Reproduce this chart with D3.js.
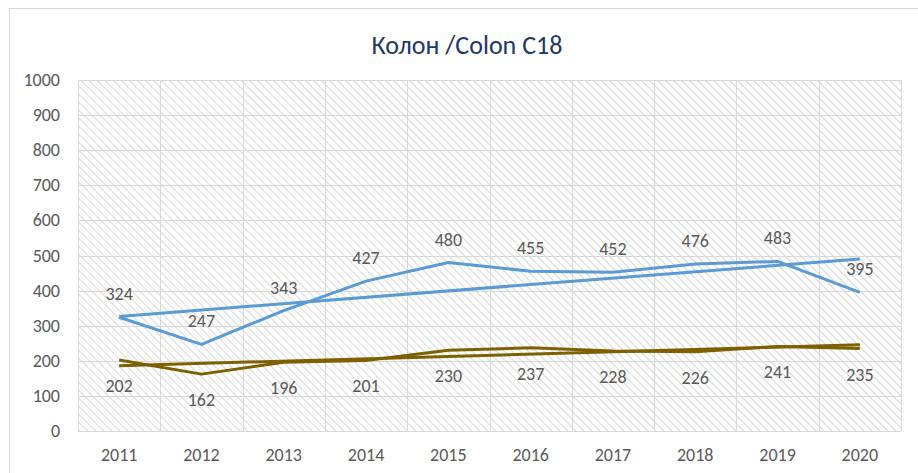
<!DOCTYPE html>
<html>
<head>
<meta charset="utf-8">
<script src="https://cdn.jsdelivr.net/npm/d3@7"></script>
<style>
  body { margin: 0; background: #fff; }
  svg { display: block; font-family: Calibri, Carlito, "Open Sans", sans-serif; }
</style>
</head>
<body>
<div id="chart"></div>
<script>
var years = ['2011', '2012', '2013', '2014', '2015', '2016', '2017', '2018', '2019', '2020'];
var blue_values = [324, 247, 343, 427, 480, 455, 452, 476, 483, 395];
var brown_values = [202, 162, 196, 201, 230, 237, 228, 226, 241, 235];
var y_ticks = [0, 100, 200, 300, 400, 500, 600, 700, 800, 900, 1000];

var chart_width = 918;
var chart_height = 473;
var plot = { left: 78, right: 901, top: 80, bottom: 431 };

var svg = d3.select('#chart')
    .append('svg')
    .attr('width', chart_width)
    .attr('height', chart_height)

// hatch pattern
var defs = svg.append('defs');
var pat = defs.append('pattern')
    .attr('id', 'hatch')
    .attr('patternUnits', 'userSpaceOnUse')
    .attr('width', 5.66)
    .attr('height', 5.66)
    .attr('patternTransform', 'rotate(-45)')
pat.append('line')
    .attr('x1', 0).attr('y1', 0)
    .attr('x2', 0).attr('y2', 5.66)
    .attr('stroke', '#d6d6d6')
    .attr('stroke-width', 2)

// outer border
svg.append('rect')
    .attr('x', 9.5)
    .attr('y', 8.5)
    .attr('width', chart_width)
    .attr('height', chart_height)
    .attr('fill', 'none')
    .attr('stroke', '#d9d9d9')

var x_scale = d3.scaleBand()
    .domain(years)
    .range([plot.left, plot.right])

var y_scale = d3.scaleLinear()
    .domain([0, 1000])
    .range([plot.bottom, plot.top])

function cx(i) {
    return x_scale(years[i]) + x_scale.bandwidth() / 2;
}

// plot background
svg.append('rect')
    .attr('x', plot.left)
    .attr('y', plot.top)
    .attr('width', plot.right - plot.left)
    .attr('height', plot.bottom - plot.top)
    .attr('fill', 'url(#hatch)')

// grid lines
svg.selectAll('.hgrid')
    .data(y_ticks)
    .enter()
    .append('line')
    .attr('x1', plot.left)
    .attr('x2', plot.right)
    .attr('y1', function (d) { return Math.round(y_scale(d)) + 0.5; })
    .attr('y2', function (d) { return Math.round(y_scale(d)) + 0.5; })
    .attr('stroke', '#d9d9d9')
    .attr('stroke-width', 1)

var vlines = years.map(function (d) { return x_scale(d); }).concat([plot.right]);
svg.selectAll('.vgrid')
    .data(vlines)
    .enter()
    .append('line')
    .attr('x1', function (d) { return Math.round(d) + 0.5; })
    .attr('x2', function (d) { return Math.round(d) + 0.5; })
    .attr('y1', plot.top)
    .attr('y2', plot.bottom)
    .attr('stroke', '#d9d9d9')
    .attr('stroke-width', 1)

// axes labels
svg.selectAll('.ylab')
    .data(y_ticks)
    .enter()
    .append('text')
    .text(function (d) { return d; })
    .attr('x', 60)
    .attr('y', function (d) { return y_scale(d) + 6; })
    .attr('text-anchor', 'end')
    .attr('font-size', 18)
    .attr('fill', '#595959')

svg.selectAll('.xlab')
    .data(years)
    .enter()
    .append('text')
    .text(function (d) { return d; })
    .attr('x', function (d, i) { return cx(i); })
    .attr('y', 461)
    .attr('text-anchor', 'middle')
    .attr('font-size', 18)
    .attr('fill', '#595959')

// title
svg.append('text')
    .text('Колон /Colon C18')
    .attr('x', 467)
    .attr('y', 54)
    .attr('text-anchor', 'middle')
    .attr('font-size', 26)
    .attr('fill', '#203864')

// linear trend from a series
function trend(values) {
    var n = values.length;
    var xm = (n + 1) / 2;
    var ym = d3.mean(values);
    var sxy = 0, sxx = 0;
    values.forEach(function (v, i) {
        sxy += (i + 1 - xm) * (v - ym);
        sxx += (i + 1 - xm) * (i + 1 - xm);
    });
    var b = sxy / sxx;
    return [0, n - 1].map(function (i) { return { i: i, v: ym + b * (i + 1 - xm) }; });
}

var line = d3.line()
    .x(function (d, i) { return cx(i); })
    .y(function (d) { return y_scale(d); })

var tline = d3.line()
    .x(function (d) { return cx(d.i); })
    .y(function (d) { return y_scale(d.v); })

var series = [
    { values: blue_values, color: '#5b9bd5', dy: -17 },
    { values: brown_values, color: '#7f6000', dy: 32 }
];

series.forEach(function (s) {
    svg.append('path')
        .attr('d', tline(trend(s.values)))
        .attr('fill', 'none')
        .attr('stroke', s.color)
        .attr('stroke-width', 3)

    svg.append('path')
        .attr('d', line(s.values))
        .attr('fill', 'none')
        .attr('stroke', s.color)
        .attr('stroke-width', 3)
        .attr('stroke-linejoin', 'round')
})

series.forEach(function (s) {
    svg.selectAll(null)
        .data(s.values)
        .enter()
        .append('text')
        .text(function (d) { return d; })
        .attr('x', function (d, i) { return cx(i); })
        .attr('y', function (d) { return y_scale(d) + s.dy; })
        .attr('text-anchor', 'middle')
        .attr('font-size', 18)
        .attr('fill', '#595959')
})
</script>
</body>
</html>
